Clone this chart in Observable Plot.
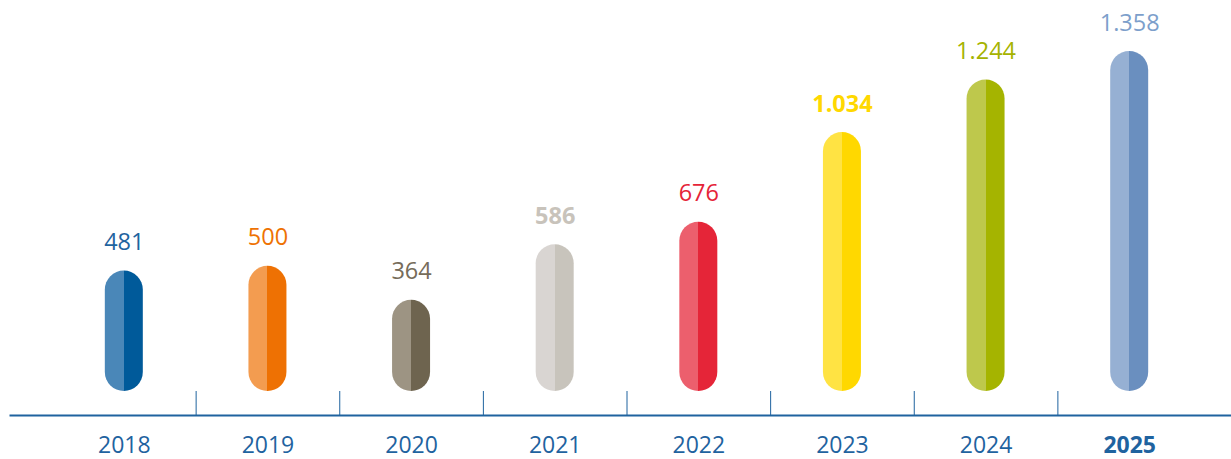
<!DOCTYPE html>
<html>
<head>
<meta charset="utf-8">
<script src="https://cdn.jsdelivr.net/npm/d3@7"></script>
<script src="https://cdn.jsdelivr.net/npm/@observablehq/plot@0.6"></script>
<style>
  html, body { margin: 0; padding: 0; background: #fff; }
  #chart svg { display: block; }
</style>
</head>
<body>
<div id="chart"></div>
<script>
const years = ["2018", "2019", "2020", "2021", "2022", "2023", "2024", "2025"];
const values = [481, 500, 364, 586, 676, 1034, 1244, 1358];
const lightColors = ["#4a87b8", "#f39c50", "#9d9483", "#d9d5d2", "#ec5f6d", "#ffe343", "#bec84c", "#96b0d3"];
const darkColors = ["#005a9a", "#ee7103", "#6e644f", "#c8c4bc", "#e52538", "#ffd800", "#a5b400", "#6a8fbf"];
const labelColors = ["#1f64a0", "#ee7203", "#766c5a", "#c8c3bb", "#e52438", "#ffd800", "#a5b300", "#7d9fcb"];
const boldLabels = ["2021", "2023"];
const boldYears = ["2025"];

const data = years.map((year, i) => ({
  year, value: values[i], light: lightColors[i], dark: darkColors[i], label: labelColors[i],
  grad: `url(#g${year})`
}));

const fmt = d3.formatLocale({thousands: ".", grouping: [3], decimal: ","}).format(",d");

const W = 1231, H = 459;
const marginLeft = 10, marginRight = 0, marginBottom = 44, marginTop = 51;
const insetBottom = 24;
const xLeft = 52, xRight = 1201;
const step = (xRight - xLeft) / years.length;
const barW = 38;
const barInset = (step - barW) / 2;
const plotBottom = H - marginBottom - insetBottom;
const axisColor = "#1f639f";
const font = "'Open Sans', sans-serif";

const defs = () => {
  const d = d3.create("svg:defs");
  data.forEach(r => {
    const g = d.append("linearGradient").attr("id", `g${r.year}`)
      .attr("x1", 0).attr("x2", 1).attr("y1", 0).attr("y2", 0);
    g.append("stop").attr("offset", "0").attr("stop-color", r.light);
    g.append("stop").attr("offset", "0.5").attr("stop-color", r.light);
    g.append("stop").attr("offset", "0.5").attr("stop-color", r.dark);
    g.append("stop").attr("offset", "1").attr("stop-color", r.dark);
  });
  return d.node();
};

const axisCommon = {
  tickSize: 0, tickPadding: 0, fontSize: 23, color: axisColor, dy: 21,
  letterSpacing: 1, label: null, tickFormat: d => d
};

const chart = Plot.plot({
  width: W,
  height: H,
  marginLeft, marginRight, marginTop, marginBottom,
  insetBottom,
  style: {fontFamily: font, background: "#fff"},
  x: {domain: years, range: [xLeft, xRight], padding: 0, round: false, axis: null},
  y: {domain: [0, 1358], axis: null},
  color: {type: "identity"},
  marks: [
    defs,
    Plot.barY(data, {
      x: "year", y: "value", fill: "grad",
      insetLeft: barInset, insetRight: barInset, rx: barW / 2
    }),
    Plot.text(data.filter(d => !boldLabels.includes(d.year)), {
      x: "year", y: "value", text: d => fmt(d.value), fill: "label",
      lineAnchor: "bottom", dy: -21, fontSize: 23.5, letterSpacing: 1
    }),
    Plot.text(data.filter(d => boldLabels.includes(d.year)), {
      x: "year", y: "value", text: d => fmt(d.value), fill: "label",
      lineAnchor: "bottom", dy: -21, fontSize: 23.5, fontWeight: "bold", letterSpacing: 1
    }),
    Plot.ruleX(years.slice(1), {
      x: d => d, dx: -step / 2, stroke: axisColor, strokeWidth: 1,
      insetTop: plotBottom - marginTop
    }),
    Plot.frame({anchor: "bottom", stroke: axisColor, strokeWidth: 2}),
    Plot.axisX({...axisCommon, ticks: years.filter(y => !boldYears.includes(y))}),
    Plot.axisX({...axisCommon, ticks: boldYears, fontWeight: "bold"})
  ]
});

document.getElementById("chart").append(chart);
</script>
</body>
</html>
